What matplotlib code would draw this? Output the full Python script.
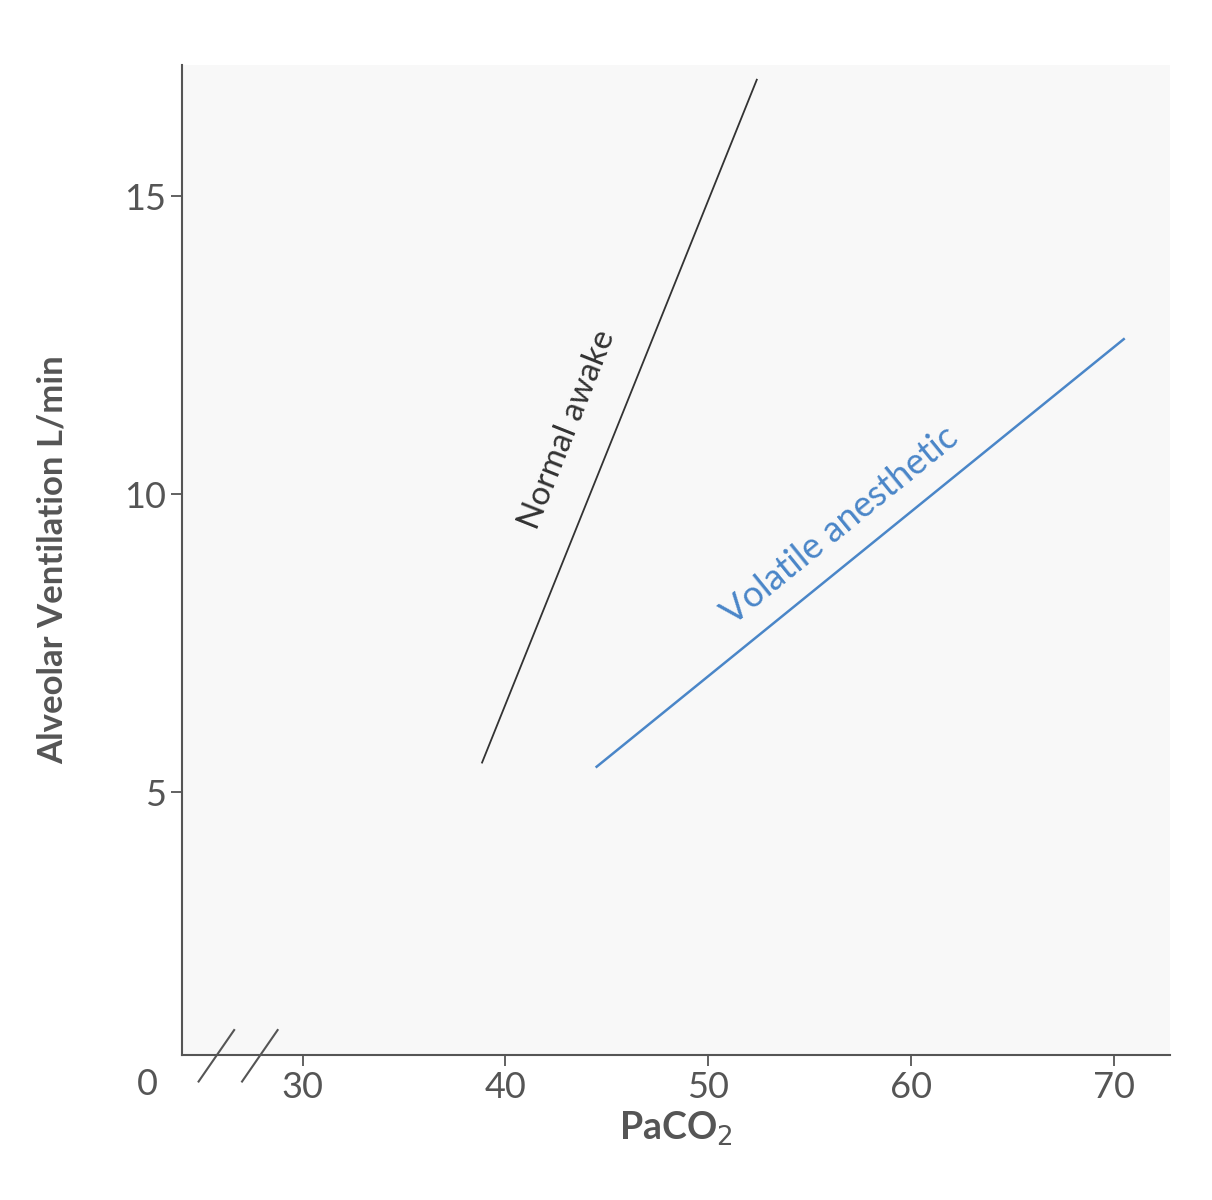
import matplotlib
matplotlib.use("Agg")
import matplotlib.pyplot as plt

normal_x = [38.85, 52.4]
normal_y = [5.5, 16.95]
vol_x = [44.5, 70.5]
vol_y = [5.43, 12.6]
xticks = [30, 40, 50, 60, 70]
yticks = [5, 10, 15]

plt.rcParams['font.family'] = ['Lato', 'DejaVu Sans']
fig = plt.figure(figsize=(12.12, 12), dpi=100)
ax = fig.add_axes([0.150, 0.121, 0.815, 0.825])
ax.set_facecolor('#f8f8f8')
ax.set_xlim(24.04, 72.76)
ax.set_ylim(0.6, 17.2)
for s in ['top', 'right']:
    ax.spines[s].set_visible(False)
for s in ['left', 'bottom']:
    ax.spines[s].set_color('#555555')
    ax.spines[s].set_linewidth(1.5)
ax.set_xticks(xticks)
ax.set_yticks(yticks)
ax.tick_params(labelsize=26, colors='#555555', length=8, width=1.3)

ax.plot(normal_x, normal_y, color='#333333', lw=1.3)
ax.plot(vol_x, vol_y, color='#4a86c8', lw=1.8)
ax.text(43.05, 11.08, 'Normal awake', rotation=68.3, fontsize=24, color='#333333',
        ha='center', va='center', rotation_mode='anchor')
ax.text(56.5, 9.48, 'Volatile anesthetic', rotation=39.1, fontsize=26, color='#4a86c8',
        ha='center', va='center', rotation_mode='anchor')

ax.text(-0.035, -0.03, '0', transform=ax.transAxes, fontsize=26, color='#555555',
        ha='center', va='center')
for x0 in [0.017, 0.061]:
    ax.plot([x0, x0 + 0.036], [-0.027, 0.025], transform=ax.transAxes,
            color='#555555', lw=1.5, clip_on=False)

ax.set_xlabel('PaCO$_2$', fontsize=27, fontweight='bold', color='#555555', labelpad=4)
ax.set_ylabel('Alveolar Ventilation L/min', fontsize=25, fontweight='bold',
              color='#555555')
ax.yaxis.set_label_coords(-0.115, 0.5)
fig.savefig('out.png', dpi=100)
